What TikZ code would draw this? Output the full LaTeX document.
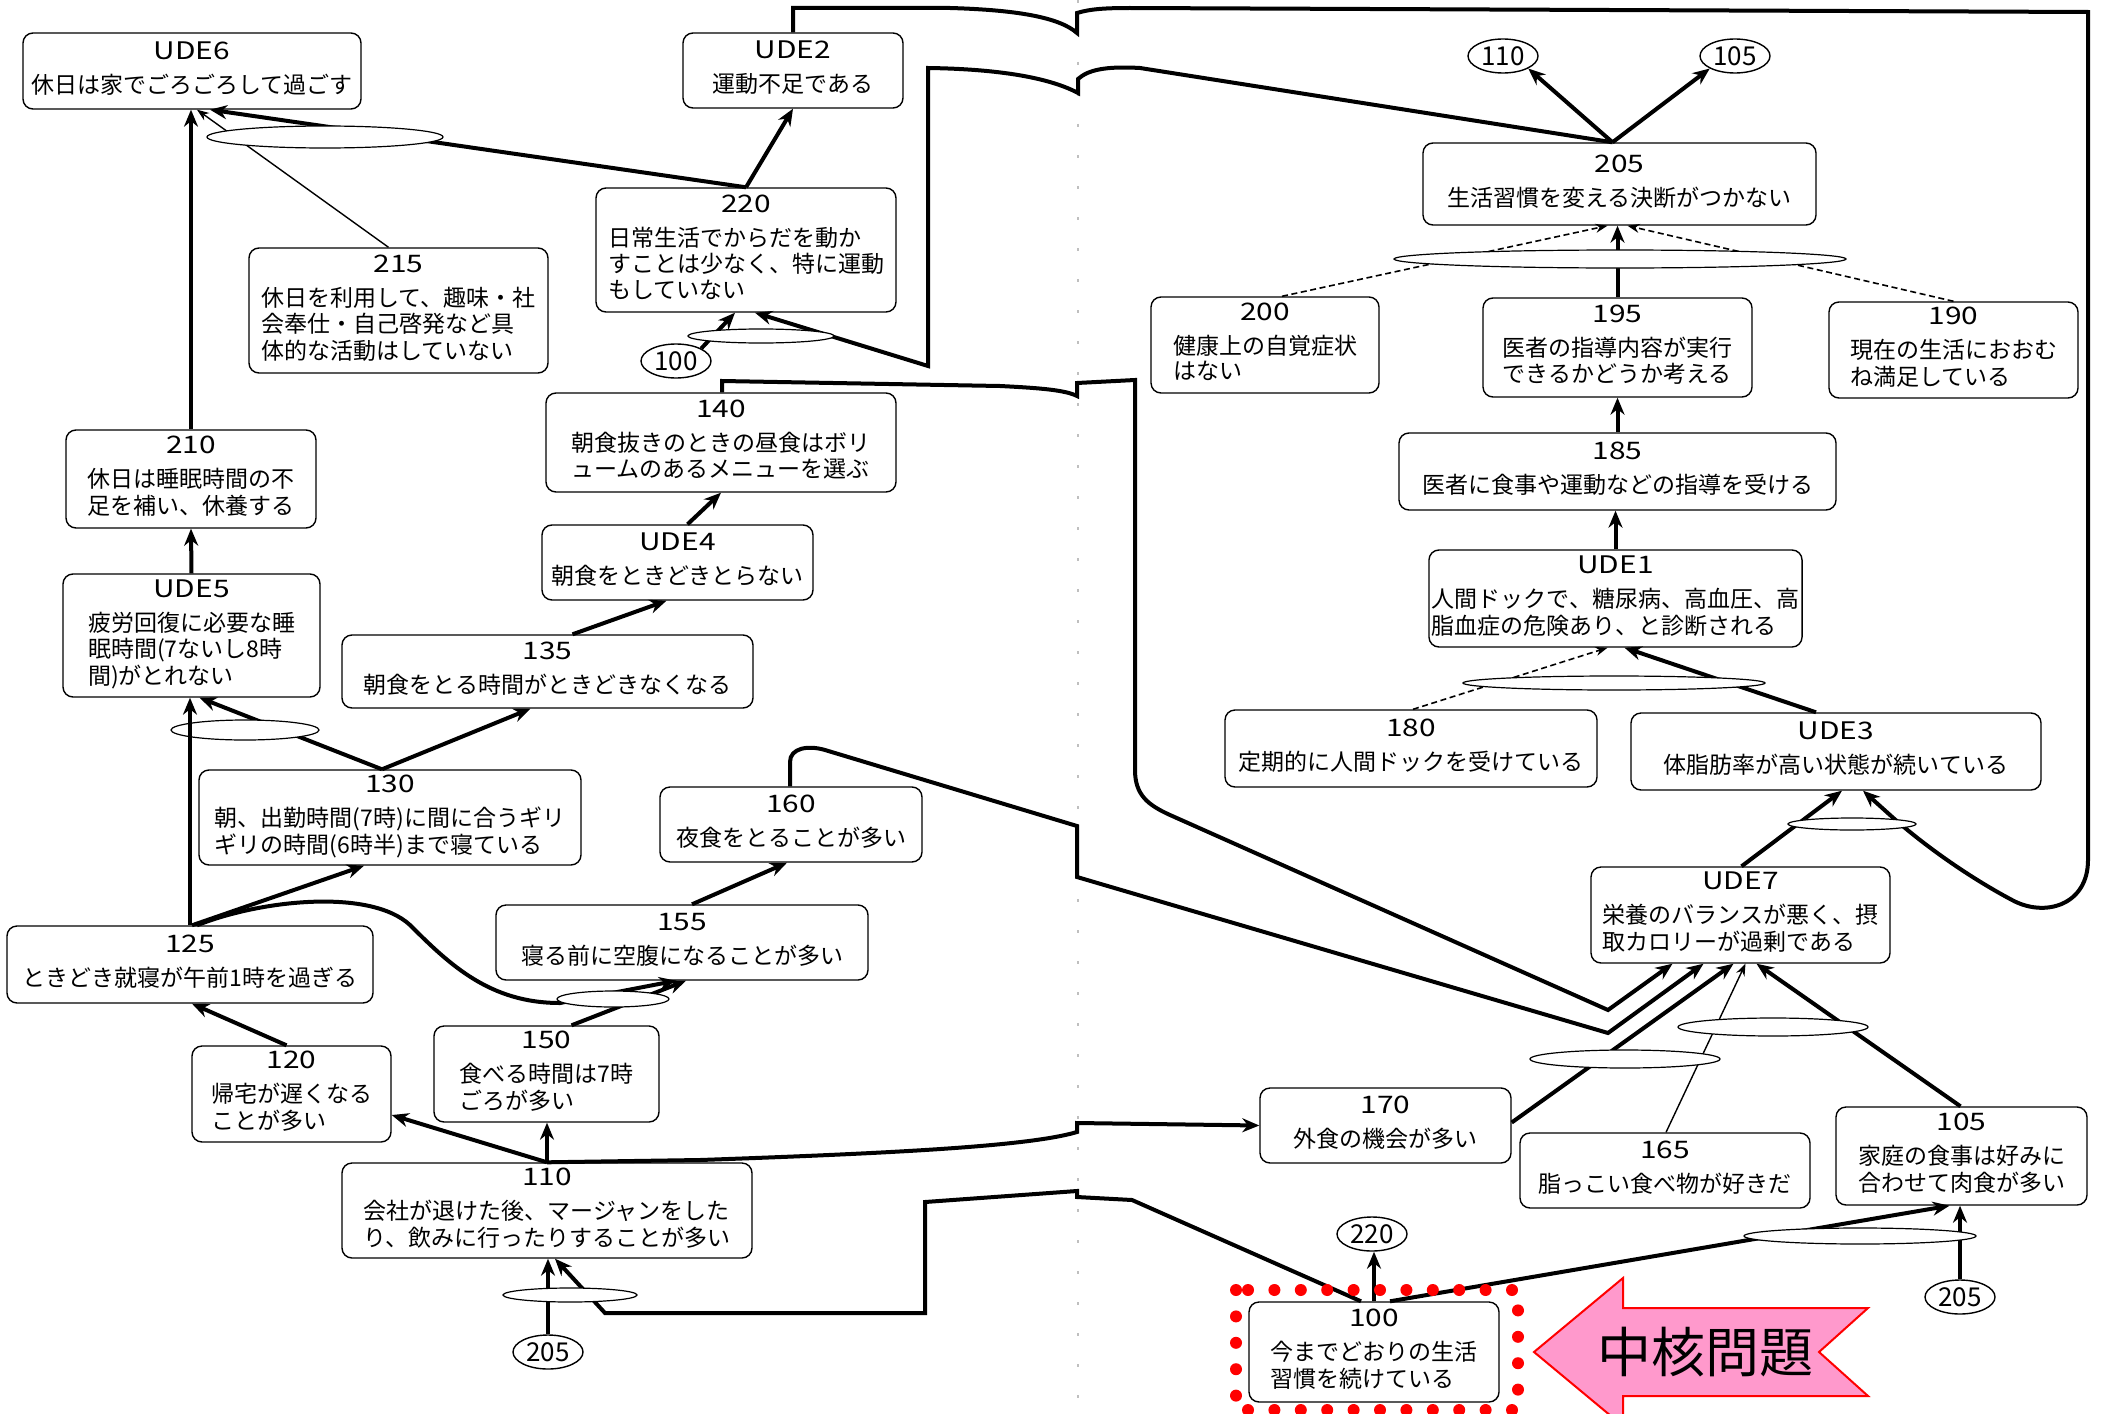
\documentclass[tikz,border=0pt]{standalone}
\usepackage{fontspec}
\usepackage{graphicx}
\setmainfont{Noto Sans CJK JP}
\usetikzlibrary{arrows.meta,shapes.geometric,calc}
\definecolor{corepink}{RGB}{255,153,204}
\newcommand{\nodefont}{\fontsize{11.5pt}{12pt}\selectfont}
\newcommand{\circfont}{\fontsize{13pt}{14pt}\selectfont}
\newcommand{\bxt}[2]{\scalebox{1.3}[1.05]{#1}\\[5pt]\begin{tabular}[t]{@{}l@{}}#2\end{tabular}}
\begin{document}
\begin{tikzpicture}[x=0.5pt,y=-0.5pt,
  cbox/.style={draw, rounded corners=5pt, line width=0.7pt, inner sep=1.5pt, align=center, font=\nodefont},
  arr/.style={line width=2pt, line join=miter, -{Stealth[length=8.5pt,width=7pt]}},
  tarr/.style={line width=0.7pt, -{Stealth[length=6pt,width=4.5pt]}},
  darr/.style={line width=0.8pt, dash pattern=on 3pt off 1.8pt, -{Stealth[length=6pt,width=4.5pt]}},
  junc/.style={draw, ellipse, fill=white, line width=0.6pt, inner sep=0pt},
  cref/.style={draw, ellipse, line width=0.7pt, inner sep=0pt, minimum width=35pt, minimum height=17pt, font=\circfont}]
\useasboundingbox (0,0) rectangle (2103,1413);
\fill[white] (0,0) rectangle (2103,1413);
\draw[gray!50, line width=0.6pt, dash pattern=on 1.5pt off 14pt] (1078,0) -- (1078,1413);

% ---------- boxes ----------
\node[cbox,minimum width=169pt,minimum height=38pt] (nUDE6) at (192,71) {\bxt{UDE6}{休日は家でごろごろして過ごす}};
\node[cbox,minimum width=110pt,minimum height=37.5pt] (nUDE2) at (793,70.5) {\bxt{UDE2}{運動不足である}};
\node[cbox,minimum width=149.5pt,minimum height=62.5pt] (n215) at (398.5,310.5) {\bxt{215}{休日を利用して、趣味・社\\会奉仕・自己啓発など具\\体的な活動はしていない}};
\node[cbox,minimum width=150pt,minimum height=62pt] (n220) at (746,250) {\bxt{220}{日常生活でからだを動か\\すことは少なく、特に運動\\もしていない}};
\node[cbox,minimum width=125pt,minimum height=49pt] (n210) at (191,479) {\bxt{210}{休日は睡眠時間の不\\足を補い、休養する}};
\node[cbox,minimum width=175pt,minimum height=49.5pt] (n140) at (721,442.5) {\bxt{140}{朝食抜きのときの昼食はボリ\\ュームのあるメニューを選ぶ}};
\node[cbox,minimum width=135.5pt,minimum height=37.5pt] (nUDE4) at (677.5,562.5) {\bxt{UDE4}{朝食をときどきとらない}};
\node[cbox,minimum width=128.5pt,minimum height=61.5pt] (nUDE5) at (191.5,635.5) {\bxt{UDE5}{疲労回復に必要な睡\\眠時間(7ないし8時\\間)がとれない}};
\node[cbox,minimum width=205.5pt,minimum height=36.5pt] (n135) at (547.5,671.5) {\bxt{135}{朝食をとる時間がときどきなくなる}};
\node[cbox,minimum width=191pt,minimum height=47.5pt] (n130) at (390,817.5) {\bxt{130}{朝、出勤時間(7時)に間に合うギリ\\ギリの時間(6時半)まで寝ている}};
\node[cbox,minimum width=131pt,minimum height=37.5pt] (n160) at (791,824.5) {\bxt{160}{夜食をとることが多い}};
\node[cbox,minimum width=183pt,minimum height=38.5pt] (n125) at (190,964.5) {\bxt{125}{ときどき就寝が午前1時を過ぎる}};
\node[cbox,minimum width=186pt,minimum height=37.5pt] (n155) at (682,942.5) {\bxt{155}{寝る前に空腹になることが多い}};
\node[cbox,minimum width=99.5pt,minimum height=48pt] (n120) at (291.5,1094) {\bxt{120}{帰宅が遅くなる\\ことが多い}};
\node[cbox,minimum width=112.5pt,minimum height=48pt] (n150) at (546.5,1074) {\bxt{150}{食べる時間は7時\\ごろが多い}};
\node[cbox,minimum width=205pt,minimum height=47.5pt] (n110) at (547,1210.5) {\bxt{110}{会社が退けた後、マージャンをした\\り、飲みに行ったりすることが多い}};
\node[cbox,minimum width=196.5pt,minimum height=41pt] (n205) at (1619.5,184) {\bxt{205}{生活習慣を変える決断がつかない}};
\node[cbox,minimum width=114pt,minimum height=48pt] (n200) at (1265,345) {\bxt{200}{健康上の自覚症状\\はない}};
\node[cbox,minimum width=134.5pt,minimum height=49.5pt] (n195) at (1617.5,347.5) {\bxt{195}{医者の指導内容が実行\\できるかどうか考える}};
\node[cbox,minimum width=124.5pt,minimum height=48pt] (n190) at (1953.5,350) {\bxt{190}{現在の生活におおむ\\ね満足している}};
\node[cbox,minimum width=218.5pt,minimum height=38.5pt] (n185) at (1617.5,471.5) {\bxt{185}{医者に食事や運動などの指導を受ける}};
\node[cbox,minimum width=186.5pt,minimum height=48.5pt] (nUDE1) at (1615.5,598.5) {\bxt{UDE1}{人間ドックで、糖尿病、高血圧、高\\脂血症の危険あり、と診断される}};
\node[cbox,minimum width=186pt,minimum height=38.5pt] (n180) at (1411,748.5) {\bxt{180}{定期的に人間ドックを受けている}};
\node[cbox,minimum width=205pt,minimum height=38.5pt] (nUDE3) at (1836,751.5) {\bxt{UDE3}{体脂肪率が高い状態が続いている}};
\node[cbox,minimum width=149.5pt,minimum height=48pt] (nUDE7) at (1740.5,915) {\bxt{UDE7}{栄養のバランスが悪く、摂\\取カロリーが過剰である}};
\node[cbox,minimum width=125.5pt,minimum height=37.5pt] (n170) at (1385.5,1125.5) {\bxt{170}{外食の機会が多い}};
\node[cbox,minimum width=145pt,minimum height=37.5pt] (n165) at (1665,1170.5) {\bxt{165}{脂っこい食べ物が好きだ}};
\node[cbox,minimum width=125.5pt,minimum height=49pt] (n105) at (1961.5,1156) {\bxt{105}{家庭の食事は好みに\\合わせて肉食が多い}};
\node[cbox,minimum width=125pt,minimum height=50pt] (n100) at (1374,1352) {\bxt{100}{今までどおりの生活\\習慣を続けている}};

% ---------- reference circles ----------
\node[cref] (c110) at (1503,56) {110};
\node[cref] (c105) at (1735,56) {105};
\node[cref] (c100) at (676,361) {100};
\node[cref] (c205a) at (548,1352) {205};
\node[cref] (c220) at (1372,1234) {220};
\node[cref] (c205b) at (1960,1297) {205};

% ---------- connectors: left page ----------
\draw[arr] (n210.north) -- (n210.north |- nUDE6.south);
\draw[arr] (n220.north) -- ($(nUDE6.south)+(18,0)$);
\draw[tarr] ($(n215.north)+(-10,0)$) -- ($(nUDE6.south)+(5,0)$);
\draw[arr] (n220.north) -- (nUDE2.south);
\draw[arr] (nUDE5.north) -- (n210.south);
\draw[arr] ($(n130.north)+(-8,0)$) -- ($(nUDE5.south)+(8,0)$);
\draw[arr] ($(n130.north)+(-8,0)$) -- ($(n135.south)+(-17,0)$);
\draw[arr] ($(n135.north)+(25,0)$) -- ($(nUDE4.south)+(-11,0)$);
\draw[arr] ($(nUDE4.north)+(10,0)$) -- (n140.south);
\draw[arr] ($(n125.north)+(2,0)$) -- ($(n130.south)+(-26,0)$);
\draw[arr] ($(n125.north)+(7,0)$) .. controls (260,900) and (370,888) .. (410,925) .. controls (450,965) and (490,1003) .. (560,1003) -- ($(n155.south)+(-6,0)$);
\draw[arr] ($(n150.north)+(25,0)$) -- ($(n155.south)+(4,0)$);
\draw[arr] ($(n155.north)+(10,0)$) -- ($(n160.south)+(-4,0)$);
\draw[arr] ($(n120.north)+(-5,0)$) -- ($(n125.south)+(2,0)$);
\draw[arr] (n110.north) -- ($(n120.east)+(0,21)$);
\draw[arr] (n110.north) -- (n110.north |- n150.south);
\draw[arr] (n110.north) -- (700,1160) .. controls (900,1153) and (1030,1146) .. (1077,1132) -- (1077,1123) -- (n170.west);
\draw[arr] (c205a.north) -- (c205a.north |- n110.south);
\draw[arr] ($(n100.north)+(-13,0)$) -- (1132,1200) -- (1077,1197) -- (1077,1191) -- (925,1202) -- (925,1313) -- (605,1313) -- ($(n110.south)+(8,0)$);
\draw[arr] (c100.north east) -- ($(n220.south)+(-11,0)$);
\draw[arr] ($(n205.north)+(-7,0)$) -- (1140,68) .. controls (1105,66) and (1088,70) .. (1078,79) -- (1078,93) .. controls (1050,78) and (1000,69) .. (928,68) -- (928,366) -- ($(n220.south)+(9,0)$);

% ---------- connectors: right page ----------
\draw[arr] ($(n205.north)+(-7,0)$) -- (c110.south east);
\draw[arr] ($(n205.north)+(-7,0)$) -- (c105.south west);
\draw[darr] ($(n200.north)+(17,0)$) -- ($(n205.south)+(-12,0)$);
\draw[arr] (n195.north) -- (n195.north |- n205.south);
\draw[darr] (n190.north) -- ($(n205.south)+(8,0)$);
\draw[arr] (n185.north) -- (n185.north |- n195.south);
\draw[arr] (nUDE1.north) -- (nUDE1.north |- n185.south);
\draw[darr] ($(n180.north)+(2,0)$) -- ($(nUDE1.south)+(-8,0)$);
\draw[arr] ($(nUDE3.north)+(-20,0)$) -- ($(nUDE1.south)+(9,0)$);
\draw[arr] ($(nUDE7.north)+(1,0)$) -- ($(nUDE3.south)+(6,0)$);
\draw[arr] (nUDE2.north) -- (793,8) -- (950,8) .. controls (1020,10) and (1060,18) .. (1077,33) -- (1077,13) .. controls (1090,9) and (1105,8) .. (1130,8) -- (2088,12) -- (2088,860) .. controls (2088,905) and (2045,918) .. (2012,900) .. controls (1965,875) and (1920,842) .. (1890,815) -- ($(nUDE3.south)+(27,0)$);
\draw[arr] ($(n140.north)+(1,0)$) -- (722,381) -- (1000,386) .. controls (1040,388) and (1065,390) .. (1077,396) -- (1077,383) -- (1135,380) -- (1135,770) .. controls (1135,795) and (1148,805) .. (1170,815) -- (1608,1010) -- ($(nUDE7.south)+(-68,0)$);
\draw[arr] ($(n160.north)+(-1,0)$) -- (790,762) .. controls (790,748) and (808,745) .. (825,750) -- (1077,826) -- (1077,877) -- (1608,1033) -- ($(nUDE7.south)+(-37,0)$);
\draw[arr] ($(n170.east)+(0,-3)$) -- ($(nUDE7.south)+(-7,0)$);
\draw[tarr] ($(n165.north)+(1,0)$) -- ($(nUDE7.south)+(5,0)$);
\draw[arr] ($(n105.north)+(-1,0)$) -- ($(nUDE7.south)+(16,0)$);
\draw[arr] (n100.north) -- (n100.north |- c220.south);
\draw[arr] ($(n100.north)+(16,0)$) -- ($(n105.south)+(-12,0)$);
\draw[arr] (c205b.north) -- (c205b.north |- n105.south);

% ---------- AND junction ellipses ----------
\node[junc,minimum width=118pt,minimum height=11pt] (eUDE6) at (325,137) {};
\node[junc,minimum width=73pt,minimum height=7pt] (e220) at (761,336) {};
\node[junc,minimum width=74pt,minimum height=10pt] (eUDE5) at (245,730) {};
\node[junc,minimum width=56pt,minimum height=8pt] (e155) at (613,999) {};
\node[junc,minimum width=67pt,minimum height=7pt] (e110) at (570,1295) {};
\node[junc,minimum width=226pt,minimum height=9pt] (e205) at (1620,259) {};
\node[junc,minimum width=151pt,minimum height=7pt] (eUDE1) at (1614,683) {};
\node[junc,minimum width=64pt,minimum height=6pt] (eUDE3) at (1852,824) {};
\node[junc,minimum width=95pt,minimum height=9pt] (e170) at (1625,1059) {};
\node[junc,minimum width=95pt,minimum height=9pt] (e165) at (1773,1027) {};
\node[junc,minimum width=116pt,minimum height=8pt] (e105) at (1860,1236) {};

\draw[arr] (n125.north) -- (n125.north |- nUDE5.south);

% ---------- core problem marker ----------
\draw[red, line width=6pt, line cap=round, dash pattern=on 0pt off 13.2pt] (1236,1290) rectangle (1518,1410);
\filldraw[fill=corepink, draw=red, line width=1pt] (1534,1352) -- (1623,1278) -- (1623,1308) -- (1868,1308) -- (1819,1352) -- (1868,1396) -- (1623,1396) -- (1623,1426) -- cycle;
\node[font=\fontsize{27pt}{30pt}\selectfont, inner sep=0pt] (core) at (1705,1352) {中核問題};
\end{tikzpicture}
\end{document}
